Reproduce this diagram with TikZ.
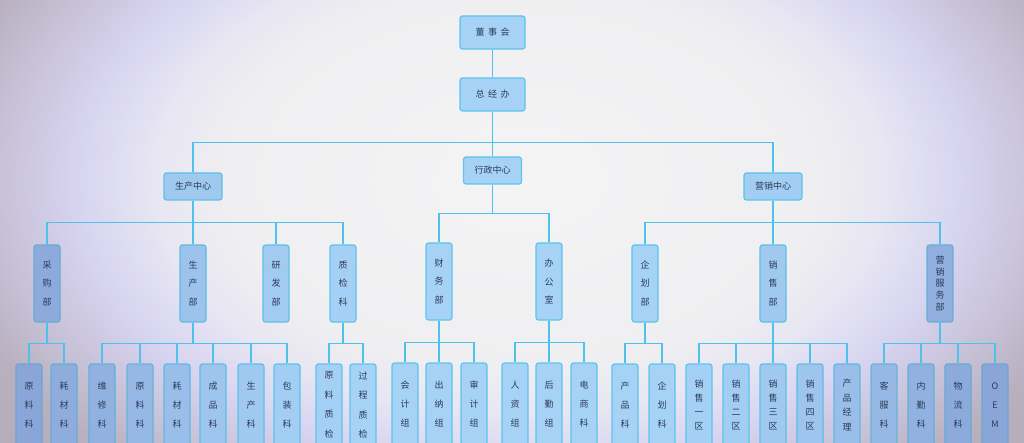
\documentclass[tikz,border=0pt]{standalone}
\usepackage{fontspec}
\newfontfamily\cjk{Noto Sans CJK SC}
\definecolor{bg0}{HTML}{F4F4F5}
\definecolor{bg1}{HTML}{EFEFF1}
\definecolor{bg2}{HTML}{E7E6F2}
\definecolor{bg3}{HTML}{D7D4F1}
\definecolor{bg4}{HTML}{C8C2D8}
\definecolor{bg5}{HTML}{B8B0BF}
\definecolor{bg6}{HTML}{ACA4B0}
\definecolor{fC}{HTML}{A6D2F6}
\definecolor{fE}{HTML}{8AA6D9}
\definecolor{bC}{HTML}{5BC5EE}
\definecolor{bE}{HTML}{6AA8CE}
\definecolor{tx}{HTML}{2B3A56}
\definecolor{ln}{HTML}{4EC2EC}
\pgfdeclareradialshading{bgrad}{\pgfpoint{0bp}{0bp}}{color(0bp)=(bg0); color(12.5bp)=(bg1); color(15.5bp)=(bg2); color(18.75bp)=(bg3); color(22bp)=(bg4); color(25bp)=(bg5); color(35bp)=(bg6); color(50bp)=(bg6)}
\tikzset{
  bx/.style={draw=bC!#1!bE, fill=fC!#1!fE, line width=1.2pt, rounded corners=2.5pt,
    inner sep=0pt, text=tx, align=center, font=\cjk\fontsize{9}{18.5}\selectfont},
  lsp/.style={font=\cjk\fontsize{9}{#1}\selectfont},
  topbox/.style={bx=100, minimum width=65pt, minimum height=33pt},
  ctrbox/.style={bx=#1, minimum width=58pt, minimum height=27pt},
  depbox/.style={bx=#1, minimum width=26pt, minimum height=77pt},
  leafbox/.style={bx=#1, minimum width=26pt, minimum height=82pt, lsp=19},
  conn/.style={draw=ln, line width=1.3pt}
}
\newcommand{\kids}[3]{\foreach \c in {#3}{\draw[conn] (#1.south) -- ++(0,#2) -| (\c.north);}}
\begin{document}
\begin{tikzpicture}[x=1pt,y=-1pt]
\useasboundingbox (0,0) rectangle (1024,443);
\begin{scope}
\clip (0,0) rectangle (1024,443);
\shade[shading=bgrad] (-70,-200) rectangle (1110,560);

% top
\node[topbox] (dsh) at (492.5,32.5) {董\hspace{3.5pt}事\hspace{3.5pt}会};
\node[topbox] (zjb) at (492.5,94.5) {总\hspace{3.5pt}经\hspace{3.5pt}办};
% centres
\node[ctrbox=80] (sc) at (193,186.5) {生产中心};
\node[ctrbox=100] (xz) at (492.5,170.5) {行政中心};
\node[ctrbox=90] (yx) at (773,186.5) {营销中心};
% departments
\node[depbox=10] (cg) at (47,283.5) {采\\购\\部};
\node[depbox=65] (scb) at (193,283.5) {生\\产\\部};
\node[depbox=85] (yf) at (276,283.5) {研\\发\\部};
\node[depbox=95] (zj) at (343,283.5) {质\\检\\科};
\node[depbox=100] (cw) at (439,281.5) {财\\务\\部};
\node[depbox=100] (bgs) at (549,281.5) {办\\公\\室};
\node[depbox=100] (qh) at (645,283.5) {企\\划\\部};
\node[depbox=80] (xs) at (773,283.5) {销\\售\\部};
\node[depbox=20, lsp=11.8] (yxfw) at (940,283.5) {营\\销\\服\\务\\部};
% leaves
\node[leafbox=0] (a1) at (29,405) {原\\料\\科};
\node[leafbox=15] (a2) at (64,405) {耗\\材\\科};
\node[leafbox=25] (b1) at (102,405) {维\\修\\科};
\node[leafbox=40] (b2) at (140,405) {原\\料\\科};
\node[leafbox=55] (b3) at (177,405) {耗\\材\\科};
\node[leafbox=70] (b4) at (213,405) {成\\品\\科};
\node[leafbox=80] (b5) at (251,405) {生\\产\\科};
\node[leafbox=90] (b6) at (287,405) {包\\装\\科};
\node[leafbox=95, lsp=19.5] (d1) at (329,405) {原\\料\\质\\检};
\node[leafbox=100, lsp=19.5] (d2) at (363,405) {过\\程\\质\\检};
\node[leafbox=100] (e1) at (405,404) {会\\计\\组};
\node[leafbox=100] (e2) at (439,404) {出\\纳\\组};
\node[leafbox=100] (e3) at (474,404) {审\\计\\组};
\node[leafbox=100] (f1) at (515,404) {人\\资\\组};
\node[leafbox=100] (f2) at (549,404) {后\\勤\\组};
\node[leafbox=100] (f3) at (584,404) {电\\商\\科};
\node[leafbox=100] (g1) at (625,405) {产\\品\\科};
\node[leafbox=100] (g2) at (662,405) {企\\划\\科};
\node[leafbox=95, lsp=14] (h1) at (699,405) {销\\售\\一\\区};
\node[leafbox=90, lsp=14] (h2) at (736,405) {销\\售\\二\\区};
\node[leafbox=80, lsp=14] (h3) at (773,405) {销\\售\\三\\区};
\node[leafbox=70, lsp=14] (h4) at (810,405) {销\\售\\四\\区};
\node[leafbox=55, lsp=14.5] (h5) at (847,405) {产\\品\\经\\理};
\node[leafbox=40] (i1) at (884,405) {客\\服\\科};
\node[leafbox=25] (i2) at (921,405) {内\\勤\\科};
\node[leafbox=10] (i3) at (958,405) {物\\流\\科};
\node[leafbox=0] (i4) at (995,405) {O\\E\\M};

% connectors
\draw[conn] (dsh.south) -- (zjb.north);
\kids{zjb}{31}{sc,xz,yx}
\kids{sc}{22}{cg,scb,yf,zj}
\kids{xz}{29}{cw,bgs}
\kids{yx}{22}{qh,xs,yxfw}
\kids{cg}{21}{a1,a2}
\kids{scb}{21}{b1,b2,b3,b4,b5,b6}
\kids{zj}{21}{d1,d2}
\kids{cw}{22}{e1,e2,e3}
\kids{bgs}{22}{f1,f2,f3}
\kids{qh}{21}{g1,g2}
\kids{xs}{21}{h1,h2,h3,h4,h5}
\kids{yxfw}{21}{i1,i2,i3,i4}
\end{scope}
\end{tikzpicture}
\end{document}
